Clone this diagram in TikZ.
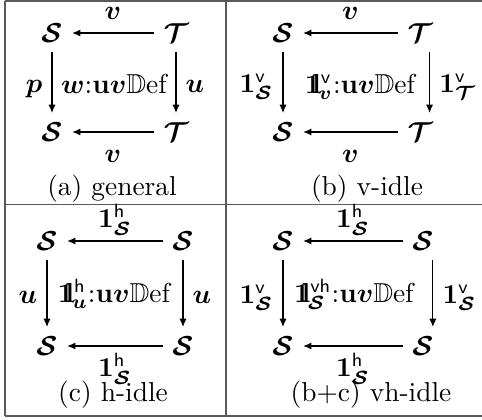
\documentclass[tikz,border=0pt]{standalone}
\usepackage{amsmath,amssymb}
\usepackage{tikz}
\usetikzlibrary{arrows.meta}
\newcommand{\cS}{\boldsymbol{\mathcal{S}}}
\newcommand{\cT}{\boldsymbol{\mathcal{T}}}
\newcommand{\bv}{\boldsymbol{v}}
\newcommand{\bu}{\boldsymbol{u}}
\newcommand{\bp}{\boldsymbol{p}}
\newcommand{\bw}{\boldsymbol{w}}
\newcommand{\uvDef}{\mathbf{u}\boldsymbol{v}\mathbb{D}\mathrm{ef}}
\newcommand{\idOne}{\mathbf{1}}
\newcommand{\idSq}{\mathbf{1}\mkern-5.5mu\mathbf{l}}
\tikzset{
  mor/.style={-{Latex[length=3pt,width=2.6pt]}, line width=0.4pt},
  rule/.style={black!65, line width=0.5pt},
  upLab/.style={midway, anchor=base, yshift=4.8pt},
  downLab/.style={midway, anchor=base, yshift=-11.2pt},
  leftLab/.style={midway, anchor=base east, yshift=-3.6pt},
  rightLab/.style={midway, anchor=base west, yshift=-3.6pt},
  cell/.style={anchor=base}
}

\begin{document}
\begin{tikzpicture}[x=0.365pt,y=-0.365pt]
        \useasboundingbox (0,0) rectangle (482,419);
        % table rules
        \draw[rule] (5,1) -- (482,1);
        \draw[rule] (5,204.5) -- (482,204.5);
        \draw[rule] (5,416) -- (482,416);
        \draw[rule] (5,1) -- (5,416);
        \draw[rule] (226,1) -- (226,416);
        % (a) general
        \node (aS1) at (52,33) {$\cS$};
        \node (aT1) at (176,33) {$\cT$};
        \node (aS2) at (52,132) {$\cS$};
        \node (aT2) at (176,132) {$\cT$};
        \draw[mor] (aT1) -- (aS1) node[upLab] {$\bv$};
        \draw[mor] (aT2) -- (aS2) node[downLab] {$\bv$};
        \draw[mor] (aS1) -- (aS2) node[leftLab] {$\bp$};
        \draw[mor] (aT1) -- (aT2) node[rightLab] {$\bu$};
        \node[cell] (aCell) at (115,93) {$\bw{:}\uvDef$};
        \node[cell] (aCap) at (112,195) {(a) general};
        % (b) v-idle
        \node (bS1) at (283,33) {$\cS$};
        \node (bT1) at (420,33) {$\cT$};
        \node (bS2) at (283,132) {$\cS$};
        \node (bT2) at (420,132) {$\cT$};
        \draw[mor] (bT1) -- (bS1) node[upLab] {$\bv$};
        \draw[mor] (bT2) -- (bS2) node[downLab] {$\bv$};
        \draw[mor] (bS1) -- (bS2) node[leftLab] {$\idOne^{\mathsf{v}}_{\cS}$};
        \draw[mor] ([xshift=3.5pt]bT1.south) -- ([xshift=3.5pt]bT2.north)
          node[rightLab] {$\idOne^{\mathsf{v}}_{\cT}$};
        \node[cell] (bCell) at (361,93) {$\idSq^{\mathsf{v}}_{\mkern-2mu\bv}{:}\uvDef$};
        \node[cell] (bCap) at (367,195) {(b) v-idle};
        % (c) h-idle
        \node (cS1) at (47,241) {$\cS$};
        \node (cS2) at (183,241) {$\cS$};
        \node (cS3) at (47,346) {$\cS$};
        \node (cS4) at (183,346) {$\cS$};
        \draw[mor] (cS2) -- (cS1) node[upLab] {$\idOne^{\mathsf{h}}_{\cS}$};
        \draw[mor] (cS4) -- (cS3) node[downLab] {$\idOne^{\mathsf{h}}_{\cS}$};
        \draw[mor] (cS1) -- (cS3) node[leftLab] {$\bu$};
        \draw[mor] (cS2) -- (cS4) node[rightLab] {$\bu$};
        \node[cell] (cCell) at (115,302) {$\idSq^{\mathsf{h}}_{\mkern-2mu\bu}{:}\uvDef$};
        \node[cell] (cCap) at (113,401) {(c) h-idle};
        % (b+c) vh-idle
        \node (dS1) at (283,241) {$\cS$};
        \node (dS2) at (423,241) {$\cS$};
        \node (dS3) at (283,346) {$\cS$};
        \node (dS4) at (423,346) {$\cS$};
        \draw[mor] (dS2) -- (dS1) node[upLab] {$\idOne^{\mathsf{h}}_{\cS}$};
        \draw[mor] (dS4) -- (dS3) node[downLab] {$\idOne^{\mathsf{h}}_{\cS}$};
        \draw[mor] (dS1) -- (dS3) node[leftLab] {$\idOne^{\mathsf{v}}_{\cS}$};
        \draw[mor] ([xshift=3.6pt]dS2.south) -- ([xshift=3.6pt]dS4.north)
          node[rightLab] {$\idOne^{\mathsf{v}}_{\cS}$};
        \node[cell] (dCell) at (355,302) {$\idSq^{\mathsf{vh}}_{\mkern-2mu\cS}{:}\uvDef$};
        \node[cell] (dCap) at (371,401) {(b+c) vh-idle};
      \end{tikzpicture}
\end{document}
